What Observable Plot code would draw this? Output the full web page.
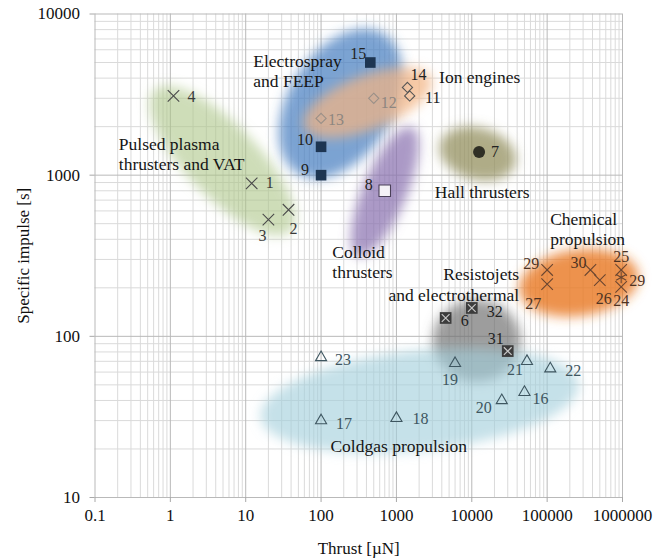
<!DOCTYPE html>
<html><head><meta charset="utf-8">
<script src="https://cdn.jsdelivr.net/npm/d3@7"></script>
<script src="https://cdn.jsdelivr.net/npm/@observablehq/plot@0.6"></script>
<style>
body{margin:0;background:#fff;}
#chart svg{display:block;}
#chart svg, #chart svg text{font-family:"Liberation Serif","Times New Roman",serif !important;}
</style></head><body><div id="chart"></div>
<script>
// ---------- data ----------
const pointIds = ["1","2","3","4","6","7","8","9","10","11","12","13","14","15","16","17","18","19","20","21","22","23","24","25","26","27","29","29","30","31","32"];
const thrustUN = [12,37,20,1.1,4500,12500,700,100,100,1500,500,100,1400,450,50000,100,1000,6000,25000,54000,110000,100,960000,960000,500000,100000,100000,960000,375000,30000,10000];
const ispS = [890,610,530,3100,130,1390,800,1000,1500,3100,3000,2250,3500,5000,45,30,31,68,40,70,63,74,203,258,223,211,258,232,258,81,150];
const pointGroup = ["ppt","ppt","ppt","ppt","resisto","hall","colloid","espray","espray","ion","ion","ion","ion","espray","cold","cold","cold","cold","cold","cold","cold","cold","chem","chem","chem","chem","chem","chemAlt","chem","resisto","resisto"];

const regionNames = ["ppt","espray","ion","colloid","hall","chem","resisto","cold"];
const regionThrust = [4.9,182,416,700,12000,264000,11650,2040];
const regionIsp = [1230,2780,2820,790,1360,215,94,40];

const groupTitles = ["Pulsed plasma\nthrusters and VAT","Electrospray\nand FEEP","Ion engines","Hall thrusters","Colloid\nthrusters","Chemical\npropulsion","Resistojets\nand electrothermal","Coldgas propulsion"];
const titleThrust = [0.207,12.6,3680,3225,141,109600,42500,133];
const titleIsp = [1370,4433,4090,793,291,467,211,20.9];

const xTicks = [0.1,1,10,100,1000,10000,100000,1000000];
const xTickLabels = ["0.1","1","10","100","1000","10000","100000","1000000"];
const yTicks = [10,100,1000,10000];
const yTickLabels = ["10","100","1000","10000"];

// ---------- layout & style ----------
const W = 664, H = 559, mL = 94.5, mR = 42, mT = 13.5, mB = 62;
const xDomain = [0.1, 1000000], yDomain = [10, 10000];
const pxDecX = (W - mL - mR) / Math.log10(xDomain[1] / xDomain[0]);
const pxDecY = (H - mT - mB) / Math.log10(yDomain[1] / yDomain[0]);

const regionShape = { // semi-axes (px) and tilt (deg)
  ppt: [98, 36, 46], espray: [82, 52, -58], ion: [68, 27, -21], colloid: [70, 22, -67],
  hall: [39, 26, 15], chem: [60, 33, -8], resisto: [44, 41, 0], cold: [160, 50, -6]
};
const regionStyle = {
  ppt: ["#aac485", 0.58], espray: ["#4a80c0", 0.72], ion: ["#f2b483", 0.72], colloid: ["#8a72b0", 0.72],
  hall: ["#938f5e", 0.74], chem: ["#e97a28", 0.82], resisto: ["#6e6e6e", 0.68], cold: ["#a2cfdb", 0.62]
};
const labelOffset = [[18,0],[5,19],[-6,16],[18,1],[19,3],[16,0],[-16,-6],[-16,-5],[-16,-7],[23,2],[15,5],[15,1],[11,-13],[-12,-9],[16,7],[23,3],[24,1],[-5,17],[-18,7],[-12,9],[23,2],[22,2],[0,14],[0,-13],[4,19],[-14,20],[-16,-6],[16,3],[-12,-7],[-12,-12],[23,4]];
const fadedIds = new Set(["12","13"]);

const points = pointIds.map((id, i) => ({id, thrust: thrustUN[i], isp: ispS[i], group: pointGroup[i], off: labelOffset[i]}));

function ellipse(cx, cy, a, b, ang) {
  const th = ang * Math.PI / 180, pts = [];
  for (let i = 0; i < 90; i++) {
    const t = 2 * Math.PI * i / 90;
    const dx = a * Math.cos(t) * Math.cos(th) - b * Math.sin(t) * Math.sin(th);
    const dy = a * Math.cos(t) * Math.sin(th) + b * Math.sin(t) * Math.cos(th);
    pts.push({x: cx * 10 ** (dx / pxDecX), y: cy * 10 ** (-dy / pxDecY)});
  }
  return pts;
}

const minor = (majors) => majors.slice(0, -1).flatMap(m => [2,3,4,5,6,7,8,9].map(k => k * m));

const blobMarks = regionNames.map((n, i) => {
  const [a, b, ang] = regionShape[n];
  const [fill, op] = regionStyle[n];
  return Plot.line(ellipse(regionThrust[i], regionIsp[i], a, b, ang),
    {x: "x", y: "y", fill, fillOpacity: op, stroke: "none", curve: "linear-closed"});
});

const sel = g => points.filter(p => g.includes(p.group));
const dotMarks = [
  Plot.dot(sel(["ppt"]), {x: "thrust", y: "isp", symbol: "times", r: 5.3, stroke: "#4a4a4a", strokeWidth: 1.1}),
  Plot.dot(sel(["chem"]), {x: "thrust", y: "isp", symbol: "times", r: 5.3, stroke: "#6b4630", strokeWidth: 1.1}),
  Plot.dot(sel(["chemAlt"]), {x: "thrust", y: "isp", symbol: "asterisk", r: 5.5, stroke: "#6b4630", strokeWidth: 1.1}),
  Plot.dot(sel(["espray"]), {x: "thrust", y: "isp", symbol: "square", r: 6, fill: "#1d3552", stroke: "none"}),
  Plot.dot(sel(["ion"]), {x: "thrust", y: "isp", symbol: "diamond2", r: 4.6, stroke: d => fadedIds.has(d.id) ? "#9a9088" : "#555", strokeWidth: 1.1}),
  Plot.dot(sel(["hall"]), {x: "thrust", y: "isp", r: 6, fill: "#2f2f25", stroke: "none"}),
  Plot.dot(sel(["colloid"]), {x: "thrust", y: "isp", symbol: "square", r: 6.5, fill: "#f4f1f6", stroke: "#4a4058", strokeWidth: 1.1}),
  Plot.dot(sel(["resisto"]), {x: "thrust", y: "isp", symbol: "square", r: 6.6, fill: "#3c3c3c", stroke: "none"}),
  Plot.dot(sel(["resisto"]), {x: "thrust", y: "isp", symbol: "times", r: 3.6, stroke: "#c9c9c9", strokeWidth: 1.2}),
  Plot.dot(sel(["cold"]), {x: "thrust", y: "isp", symbol: "triangle2", r: 5.3, stroke: "#3e5660", strokeWidth: 1.1})
];
const labelColor = p => fadedIds.has(p.id) ? "#8d8680"
  : p.group === "cold" ? "#3e5660"
  : (p.group === "chem" || p.group === "chemAlt") ? "#4e3322"
  : p.group === "ppt" ? "#3a3a3a" : "#222";
const numberMarks = points.map(p => Plot.text([p], {x: "thrust", y: "isp", text: "id", dx: p.off[0], dy: p.off[1], fill: labelColor(p), fontSize: 16, textAnchor: "middle", lineAnchor: "middle"}));

const titleMarks = groupTitles.map((t, i) => Plot.text([t], {
  x: () => titleThrust[i], y: () => titleIsp[i], text: d => d,
  textAnchor: i === 6 ? "end" : "start", lineAnchor: "middle", lineHeight: 1.15, fontSize: 17.5, fill: "#151515"
}));

const plot = Plot.plot({
  width: W, height: H, marginLeft: mL, marginRight: mR, marginTop: mT, marginBottom: mB,
  style: {fontFamily: "'Liberation Serif','Times New Roman',serif", fontSize: "17px", background: "#fff", overflow: "visible"},
  x: {type: "log", domain: xDomain},
  y: {type: "log", domain: yDomain},
  marks: [
    Plot.ruleX(minor(xTicks), {stroke: "#dadada", strokeWidth: 1}),
    Plot.ruleY(minor(yTicks), {stroke: "#dadada", strokeWidth: 1}),
    Plot.ruleX(xTicks, {stroke: "#b9b9b9", strokeWidth: 1}),
    Plot.ruleY(yTicks, {stroke: "#b9b9b9", strokeWidth: 1}),
    ...blobMarks,
    Plot.axisX({ticks: xTicks, tickFormat: d => xTickLabels[xTicks.indexOf(d)], tickSize: 5, tickPadding: 6,
      stroke: "#a8a8a8", fill: "#111", fontSize: 17, label: "Thrust [µN]", labelAnchor: "center", labelOffset: 56, labelArrow: "none"}),
    Plot.axisY({ticks: yTicks, tickFormat: d => yTickLabels[yTicks.indexOf(d)], tickSize: 5, tickPadding: 10,
      stroke: "#a8a8a8", fill: "#111", fontSize: 17, label: "Specific impulse [s]", labelAnchor: "center", labelOffset: 78, labelArrow: "none"}),
    ...dotMarks,
    ...numberMarks,
    ...titleMarks
  ]
});

// soft blurred blobs
const svg = d3.select(plot);
const defs = svg.insert("defs", ":first-child");
defs.append("filter").attr("id", "soft").attr("x", "-50%").attr("y", "-50%").attr("width", "200%").attr("height", "200%")
  .append("feGaussianBlur").attr("stdDeviation", 6);
svg.selectAll('g[aria-label="line"]').attr("filter", "url(#soft)");

document.getElementById("chart").append(plot);
</script>
</body></html>
